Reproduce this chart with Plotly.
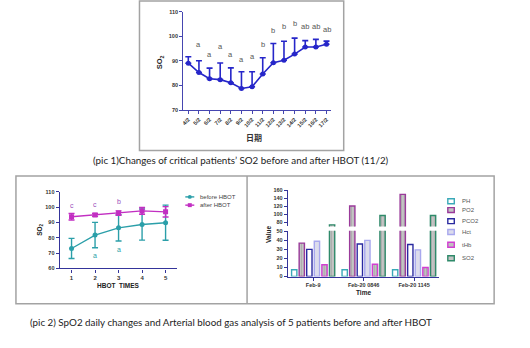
import plotly.graph_objects as go

W, H = 530, 348

# ---------------- pic 1 data ----------------
dates = ["4/2", "5/2", "6/2", "7/2", "8/2", "9/2", "10/2", "11/2",
         "12/2", "13/2", "14/2", "15/2", "16/2", "17/2"]
so2_mean = [89.1, 85.3, 82.8, 82.4, 81.1, 78.8, 79.5, 84.7, 89.3, 90.3, 92.8, 95.7, 95.7, 96.8]
so2_err_up = [2.6, 4.8, 4.3, 6.8, 6.1, 6.8, 6.1, 6.6, 7.8, 7.7, 6.5, 2.6, 3.1, 1.3]
sig_letters = ["", "a", "a", "a", "a", "a", "a", "b", "b", "b", "b", "ab", "ab", "ab"]
sig_y = [None, 96.7, 92.7, 95.7, 92.7, 90.8, 92.0, 96.7, 102.4, 104.1, 105.3, 104.1, 104.1, 102.8]

# ---------------- pic 2 left data ----------------
hbot_times = [1, 2, 3, 4, 5]
before_mean = [73.0, 81.8, 86.5, 88.7, 89.9]
before_sd = [6.6, 8.3, 8.6, 10.2, 11.5]
after_mean = [93.8, 95.0, 96.2, 97.6, 97.0]
after_sd = [2.1, 1.0, 1.4, 2.2, 3.4]
after_letters = ["c", "c", "b"]
after_letter_y = [101.0, 101.5, 104.0]
before_letters = ["", "a", "a"]
before_letter_y = [None, 68.5, 72.3]

# ---------------- pic 2 right data ----------------
gas_times = ["Feb-9", "Feb-20 0846", "Feb-20 1145"]
PH = [7.4, 7.4, 7.4]
PO2 = [37, 121, 150]
PCO2 = [30, 36, 35.5]
Hct = [39, 40, 29.5]
tHb = [13, 13.5, 10]
SO2 = [74, 97.5, 97.5]
gas_names = ["PH", "PO2", "PCO2", "Hct", "tHb", "SO2"]
gas_values = [PH, PO2, PCO2, Hct, tHb, SO2]


def px(x):
    return x / W


def py(y):
    return 1 - y / H


FONT = "Liberation Sans"
fig = go.Figure()

# ---------- pic 1 ----------
BLUE = "#2626c9"
fig.add_trace(go.Scatter(
    x=dates, y=so2_mean, mode="lines+markers", xaxis="x", yaxis="y",
    line=dict(color=BLUE, width=1.6), marker=dict(color=BLUE, size=5),
    error_y=dict(type="data", symmetric=False, array=so2_err_up,
                 arrayminus=[0] * len(so2_mean), color=BLUE, thickness=1.6, width=3),
    showlegend=False))

# ---------- pic 2 left ----------
TEAL = "#2b9fa9"
MAG = "#c22fc2"
fig.add_trace(go.Scatter(
    x=hbot_times, y=before_mean, mode="lines+markers", name="before HBOT",
    xaxis="x2", yaxis="y2", line=dict(color=TEAL, width=1.4),
    marker=dict(color=TEAL, size=5, symbol="circle"),
    error_y=dict(type="data", array=before_sd, color=TEAL, thickness=1.4, width=3),
    showlegend=False))
fig.add_trace(go.Scatter(
    x=hbot_times, y=after_mean, mode="lines+markers", name="after HBOT",
    xaxis="x2", yaxis="y2", line=dict(color=MAG, width=1.4),
    marker=dict(color=MAG, size=5, symbol="square"),
    error_y=dict(type="data", array=after_sd, color=MAG, thickness=1.4, width=3),
    showlegend=False))

# ---------- pic 2 right (broken axis) ----------
gas_styles = {
    "PH": dict(fill="#ffffff", line="#3aa9b8", pattern=False),
    "PO2": dict(fill="#c4c4c4", line="#9a3a9a", pattern=True),
    "PCO2": dict(fill="#ffffff", line="#2a2aa0", pattern=False),
    "Hct": dict(fill="#dcdcec", line="#a8a8ee", pattern=False),
    "tHb": dict(fill="#c0c0c0", line="#d23ed2", pattern=True),
    "SO2": dict(fill="#c4c4c4", line="#2f8a6a", pattern=True),
}
for yax in ["y3", "y4"]:
    for name, vals in zip(gas_names, gas_values):
        st = gas_styles[name]
        marker = dict(color=st["fill"], line=dict(color=st["line"], width=1.4))
        if st["pattern"]:
            marker["pattern"] = dict(shape="|", fgcolor="#8e8e8e", bgcolor=st["fill"],
                                     size=2.5, solidity=0.35)
        fig.add_trace(go.Bar(x=gas_times, y=vals, name=name, xaxis="x3", yaxis=yax,
                             marker=marker, showlegend=False))

AX1 = "#4646b0"
AX2 = "#34349a"
tick_font = dict(family=FONT, size=6, color="#333", weight="bold")
small_tick = dict(family=FONT, size=5.5, color="#333", weight="bold")

common = dict(showgrid=False, zeroline=False, showline=True, ticks="outside",
              ticklen=3, tickwidth=1.2, linewidth=1.4)

fig.update_layout(
    width=W, height=H, margin=dict(l=0, r=0, t=0, b=0),
    paper_bgcolor="white", plot_bgcolor="rgba(0,0,0,0)",
    barmode="group", bargap=0.1, bargroupgap=0.3,
    showlegend=False,
    xaxis=dict(domain=[px(182), px(330)], anchor="y", type="category",
               range=[-0.47, 13.4], tickangle=-45, linecolor=AX1, tickcolor=AX1,
               tickfont=small_tick, **common),
    yaxis=dict(domain=[py(109), py(9)], anchor="x", range=[70, 110], dtick=10,
               linecolor=AX1, tickcolor=AX1, tickfont=small_tick, **common),
    xaxis2=dict(domain=[px(58), px(176)], anchor="y2", range=[0.5, 5.5],
                tickvals=hbot_times, linecolor=AX2, tickcolor=AX2, tickfont=tick_font, **common),
    yaxis2=dict(domain=[py(270), py(192.3)], anchor="x2", range=[60, 110], dtick=10,
                linecolor=AX2, tickcolor=AX2, tickfont=small_tick, **common),
    xaxis3=dict(domain=[px(287), px(439)], anchor="y3", type="category",
                range=[-0.5, 2.5], linecolor=AX2, tickcolor=AX2, tickfont=small_tick, **common),
    yaxis3=dict(domain=[py(278.3), py(231.7)], anchor="x3", range=[0, 50.7],
                tickvals=[0, 10, 20, 30, 40, 50], linecolor=AX2, tickcolor=AX2,
                tickfont=small_tick, **common),
    yaxis4=dict(domain=[py(227.4), py(190.7)], anchor="x3", range=[70, 160],
                tickvals=[80, 100, 120, 140, 160], linecolor=AX2, tickcolor=AX2,
                tickfont=small_tick, **common),
)

ann = []
shapes = []


def note(x, y, text, size, color="#222", bold=False, family=FONT, angle=0,
         xanchor="center", xref="paper", yref="paper"):
    f = dict(family=family, size=size, color=color)
    if bold:
        f["weight"] = "bold"
    ann.append(dict(x=x, y=y, xref=xref, yref=yref, text=text, showarrow=False,
                    xanchor=xanchor, yanchor="middle", textangle=angle, font=f))


# panel boxes
BOX = "#a3a3a3"
shapes.append(dict(type="rect", xref="paper", yref="paper", x0=px(138), x1=px(343),
                   y0=py(150), y1=py(-2), line=dict(color=BOX, width=1.5)))
shapes.append(dict(type="rect", xref="paper", yref="paper", x0=px(14), x1=px(494),
                   y0=py(306), y1=py(176), line=dict(color=BOX, width=1.5)))
shapes.append(dict(type="line", xref="paper", yref="paper", x0=px(246), x1=px(246),
                   y0=py(306), y1=py(176), line=dict(color=BOX, width=1.5)))

# pic 1 significance letters
for d, letter, yv in zip(dates, sig_letters, sig_y):
    if letter:
        note(d, yv, letter, 7.5, color="#555", xref="x", yref="y")
# pic 1 titles
note(px(159), py(60), "SO<sub>2</sub>", 7.5, bold=True, angle=-90)
note(px(253), py(137), "日期", 8, color="#333", bold=True, family="Noto Sans CJK SC")

# pic 2 left letters
for xv, letter, yv in zip(hbot_times, after_letters, after_letter_y):
    if letter:
        note(xv, yv, letter, 7, color="#9b4dbb", xref="x2", yref="y2")
for xv, letter, yv in zip(hbot_times, before_letters, before_letter_y):
    if letter:
        note(xv, yv, letter, 7, color=TEAL, xref="x2", yref="y2")
note(px(38), py(231), "SO<sub>2</sub>", 6.5, bold=True, angle=-90)
note(px(117), py(287), "HBOT  TIMES", 6.5, bold=True)

# pic 2 left legend
leg_rows = [("before HBOT", TEAL, "circle", 197.3), ("after HBOT", MAG, "square", 205.7)]
for label, col, sym, yy in leg_rows:
    shapes.append(dict(type="line", xref="paper", yref="paper", x0=px(184), x1=px(193),
                       y0=py(yy), y1=py(yy), line=dict(color=col, width=1.4)))
    shapes.append(dict(type="circle" if sym == "circle" else "rect", xref="paper",
                       yref="paper", x0=px(186.5), x1=px(190.5),
                       y0=py(yy + 2), y1=py(yy - 2), fillcolor=col, line=dict(width=0)))
    note(px(197), py(yy), label, 6, color="#444", xanchor="left")

# pic 2 right titles
note(px(268), py(235), "Value", 6.5, bold=True, angle=-90)
note(px(363), py(294.5), "Time", 6.5, bold=True)

# pic 2 right legend
leg_y = [201.7, 210.7, 222, 233, 246, 259.7]
for name, yy in zip(gas_names, leg_y):
    st = gas_styles[name]
    shapes.append(dict(type="rect", xref="paper", yref="paper", x0=px(447.5), x1=px(454),
                       y0=py(yy + 2.5), y1=py(yy - 2.5), fillcolor=st["fill"],
                       line=dict(color=st["line"], width=1.4)))
    note(px(459.5), py(yy), name, 6, color="#555", xanchor="left")

# captions
note(px(240), py(160),
     "(pic 1)Changes of critical patients’ SO2 before and after HBOT (11/2)",
     9.8, family="Lato")
note(px(26), py(325),
     "(pic 2) SpO2 daily changes and Arterial blood gas analysis of 5 patients before and after HBOT",
     9.8, family="Lato", xanchor="left")

fig.update_layout(annotations=ann, shapes=shapes)
fig.write_html("out.html")
